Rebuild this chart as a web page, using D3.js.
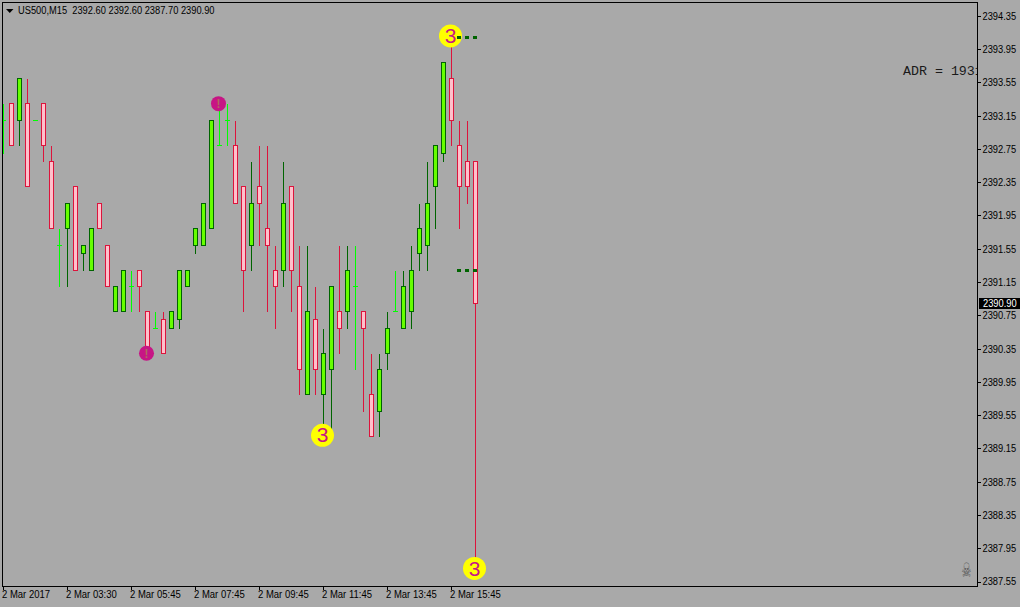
<!DOCTYPE html>
<html><head><meta charset="utf-8">
<script src="https://cdnjs.cloudflare.com/ajax/libs/d3/7.8.5/d3.min.js"></script>
<style>
html,body{margin:0;padding:0;background:#a9a9a9;overflow:hidden}
svg{display:block}
text{font-family:"Liberation Sans",Arial,sans-serif}
</style></head><body><svg id="c" width="1020" height="607"></svg>
<script>
const opens =[2393.1,2393.3,2393.1,2393.3,2393.1,2393.3,2392.6,2391.6,2391.8,2392.3,2391.5,2391.3,2392.1,2391.6,2390.8,2390.8,2391.1,2391.3,2390.8,2390.6,2390.7,2390.6,2390.7,2391.1,2391.6,2391.6,2391.8,2392.8,2393.1,2392.8,2392.3,2391.6,2392.3,2391.8,2391.3,2391.3,2392.3,2391.1,2389.8,2390.7,2389.8,2390.1,2390.8,2390.8,2391.1,2390.8,2389.8,2389.6,2390.3,2390.8,2390.6,2390.8,2391.5,2391.6,2392.3,2392.7,2393.6,2392.8,2392.6,2392.6];
const highs =[2393.3,2393.3,2393.6,2393.6,2393.1,2393.3,2392.8,2391.8,2392.1,2392.3,2391.6,2391.8,2392.1,2391.6,2391.1,2391.3,2391.3,2391.3,2390.8,2390.8,2390.8,2390.8,2391.3,2391.3,2391.8,2392.1,2393.1,2393.3,2393.3,2393.1,2392.3,2392.6,2392.8,2392.8,2391.6,2392.6,2392.3,2391.6,2391.6,2391.1,2390.6,2391.1,2391.6,2391.6,2391.6,2390.8,2390.3,2390.3,2390.8,2391.3,2391.3,2391.6,2392.1,2392.6,2392.8,2393.8,2394.1,2393.1,2393.1,2392.6];
const lows  =[2392.7,2392.8,2392.8,2392.3,2393.1,2392.6,2391.8,2391.1,2391.1,2391.3,2391.3,2391.3,2391.8,2391.1,2390.8,2390.8,2390.8,2390.8,2390.3,2390.6,2390.3,2390.6,2390.6,2391.1,2391.5,2391.6,2391.8,2392.8,2392.8,2392.1,2390.8,2391.3,2391.6,2390.8,2390.6,2391.1,2390.8,2389.8,2389.8,2389.8,2389.4,2389.4,2390.3,2390.6,2390.1,2389.6,2389.3,2389.3,2390.1,2390.8,2390.6,2390.6,2391.3,2391.3,2391.8,2392.6,2392.8,2391.8,2392.1,2387.7];
const closes=[2393.1,2392.8,2393.6,2392.3,2393.1,2392.8,2391.8,2391.6,2392.1,2391.3,2391.6,2391.8,2391.8,2391.1,2391.1,2391.3,2391.1,2391.1,2390.3,2390.6,2390.3,2390.8,2391.3,2391.3,2391.8,2392.1,2393.1,2392.8,2393.1,2392.1,2391.3,2392.1,2392.1,2391.6,2391.1,2392.1,2391.3,2390.1,2390.8,2390.1,2390.3,2391.1,2390.6,2391.3,2391.1,2390.6,2389.3,2390.1,2390.6,2390.8,2391.1,2391.3,2391.8,2392.1,2392.8,2393.8,2393.1,2392.3,2392.3,2390.9];
const priceTicks=[2394.35,2393.95,2393.55,2393.15,2392.75,2392.35,2391.95,2391.55,2391.15,2390.75,2390.35,2389.95,2389.55,2389.15,2388.75,2388.35,2387.95,2387.55];
const timeTickIndex=[0,8,16,24,32,40,48,56];
const timeLabels=["2 Mar 2017","2 Mar 03:30","2 Mar 05:45","2 Mar 07:45","2 Mar 09:45","2 Mar 11:45","2 Mar 13:45","2 Mar 15:45"];
const headerText="US500,M15  2392.60 2392.60 2387.70 2390.90";
const lastPrice=2390.90;
const pinkMarkers=[{i:18,p:2390.3},{i:27,p:2393.3}];
const threeMarkers=[{i:40,p:2389.3},{i:56,p:2394.1},{i:59,p:2387.7}];
const dashLevels=[2394.1,2391.3];

const C={bg:"#a9a9a9",bull:"#66ff00",bullEdge:"#006400",bear:"#ffc0cb",bearEdge:"#dc143c",doji:"#00ff00",mark:"#c71585",yellow:"#ffff00",dash:"#006400",txt:"#000"};
const L=2.5,T=2.5,R=977.5,B=586.5;
const x=d3.scaleLinear().domain([0,59]).range([3.5,475.5]);
const y=d3.scaleLinear().domain([2387.55,2394.35]).range([582.06,16.3]);
const py=v=>Math.floor(y(v))+0.5;
const svg=d3.select("#c").attr("shape-rendering","crispEdges");
svg.append("defs").append("clipPath").attr("id","plot").append("rect").attr("x",L).attr("y",T).attr("width",R-L).attr("height",B-T);
svg.append("rect").attr("width",1020).attr("height",607).attr("fill",C.bg);

// squeeze text horizontally so its height and width both match the reference
const squeeze=(sel,k)=>sel.each(function(){
  d3.select(this).attr("lengthAdjust","spacingAndGlyphs").attr("textLength",this.getComputedTextLength()*k);
});

const plot=svg.append("g").attr("clip-path","url(#plot)");
const data=opens.map((o,i)=>({i,o,h:highs[i],l:lows[i],c:closes[i]}));
const col=d=>d.c===d.o?C.doji:(d.c>d.o?C.bullEdge:C.bearEdge);
plot.selectAll("line.w").data(data).join("line").attr("class","w")
  .attr("x1",d=>x(d.i)).attr("x2",d=>x(d.i)).attr("y1",d=>py(d.h)).attr("y2",d=>py(d.l)+0.5).attr("stroke",col);
plot.selectAll("line.d").data(data.filter(d=>d.o===d.c)).join("line").attr("class","d")
  .attr("x1",d=>x(d.i)-2.5).attr("x2",d=>x(d.i)+2.5).attr("y1",d=>py(d.o)).attr("y2",d=>py(d.o)).attr("stroke",C.doji);
plot.selectAll("rect.b").data(data.filter(d=>d.o!==d.c)).join("rect").attr("class","b")
  .attr("x",d=>x(d.i)-2).attr("width",4)
  .attr("y",d=>py(Math.max(d.o,d.c))).attr("height",d=>py(Math.min(d.o,d.c))-py(Math.max(d.o,d.c)))
  .attr("fill",d=>d.c>d.o?C.bull:C.bear).attr("stroke",col);

plot.selectAll("circle.p").data(pinkMarkers).join("circle").attr("class","p")
  .attr("shape-rendering","auto").attr("cx",d=>x(d.i)-1).attr("cy",d=>y(d.p)).attr("r",7.5).attr("fill",C.mark);
plot.selectAll("text.p").data(pinkMarkers).join("text").attr("class","p")
  .attr("x",d=>x(d.i)-1).attr("y",d=>y(d.p)+4.5).attr("text-anchor","middle").attr("font-size",12).attr("font-weight","bold").attr("fill","#b06a60").text("!");
plot.selectAll("circle.t").data(threeMarkers).join("circle").attr("class","t")
  .attr("shape-rendering","auto").attr("cx",d=>x(d.i)-1).attr("cy",d=>y(d.p)-1.2).attr("r",11.5).attr("fill",C.yellow);
plot.selectAll("text.t").data(threeMarkers).join("text").attr("class","t")
  .attr("x",d=>x(d.i)-1).attr("y",d=>y(d.p)+6).attr("text-anchor","middle").attr("font-size",21).attr("fill",C.mark).text("3");

dashLevels.forEach(v=>{
  plot.append("line").attr("x1",x(56)+5.5).attr("x2",x(59)+2).attr("y1",py(v)).attr("y2",py(v))
   .attr("stroke",C.dash).attr("stroke-width",3).attr("stroke-dasharray","4,4");
});

plot.append("text").attr("x",903).attr("y",75).attr("font-size",13.3).attr("fill","#1a1a1a")
  .style("font-family","'Liberation Mono',monospace").text("ADR = 1931");
plot.append("text").attr("transform","translate(966.5,577) scale(0.85,1.5)").attr("text-anchor","middle").attr("font-size",13).attr("fill","#555")
  .style("font-family","'DejaVu Sans'").text("\u2620");

// frame
svg.append("rect").attr("x",L).attr("y",T).attr("width",R-L).attr("height",B-T).attr("fill","none").attr("stroke","#000");

// axes
const ay=svg.append("g").attr("transform",`translate(${R},0)`).call(d3.axisRight(y).offset(0).tickValues(priceTicks).tickSize(3).tickPadding(2).tickFormat(d3.format(".2f")));
ay.select(".domain").remove();
ay.selectAll("text").attr("font-size",10).attr("fill",C.txt).attr("dy","0.34em").style("font-family","'Liberation Sans'").call(squeeze,0.93);
ay.selectAll("line").attr("stroke","#000");
const ax=svg.append("g").attr("transform",`translate(0,${B})`).call(d3.axisBottom(x).offset(0).tickValues(timeTickIndex).tickSize(3).tickPadding(1).tickFormat((d,i)=>timeLabels[i]));
ax.select(".domain").remove();
ax.selectAll("text").attr("font-size",10).attr("fill",C.txt).attr("text-anchor","start").attr("dx",-1.5).style("font-family","'Liberation Sans'").call(squeeze,0.95);
ax.selectAll("line").attr("stroke","#000");

// last price tag
svg.append("rect").attr("x",R+1).attr("y",298).attr("width",41).attr("height",11).attr("fill","#000");
svg.append("text").attr("x",R+5.5).attr("y",y(lastPrice)+3.4).attr("font-size",10).attr("fill","#fff").text(d3.format(".2f")(lastPrice)).call(squeeze,0.93);

// header
svg.append("path").attr("shape-rendering","auto").attr("d",d3.line()([[6,9],[13.5,9],[9.75,13]])+"Z").attr("fill","#000");
svg.append("text").attr("x",18).attr("y",14).attr("font-size",10).attr("fill",C.txt).style("white-space","pre").text(headerText).call(squeeze,0.93);
</script></body></html>
